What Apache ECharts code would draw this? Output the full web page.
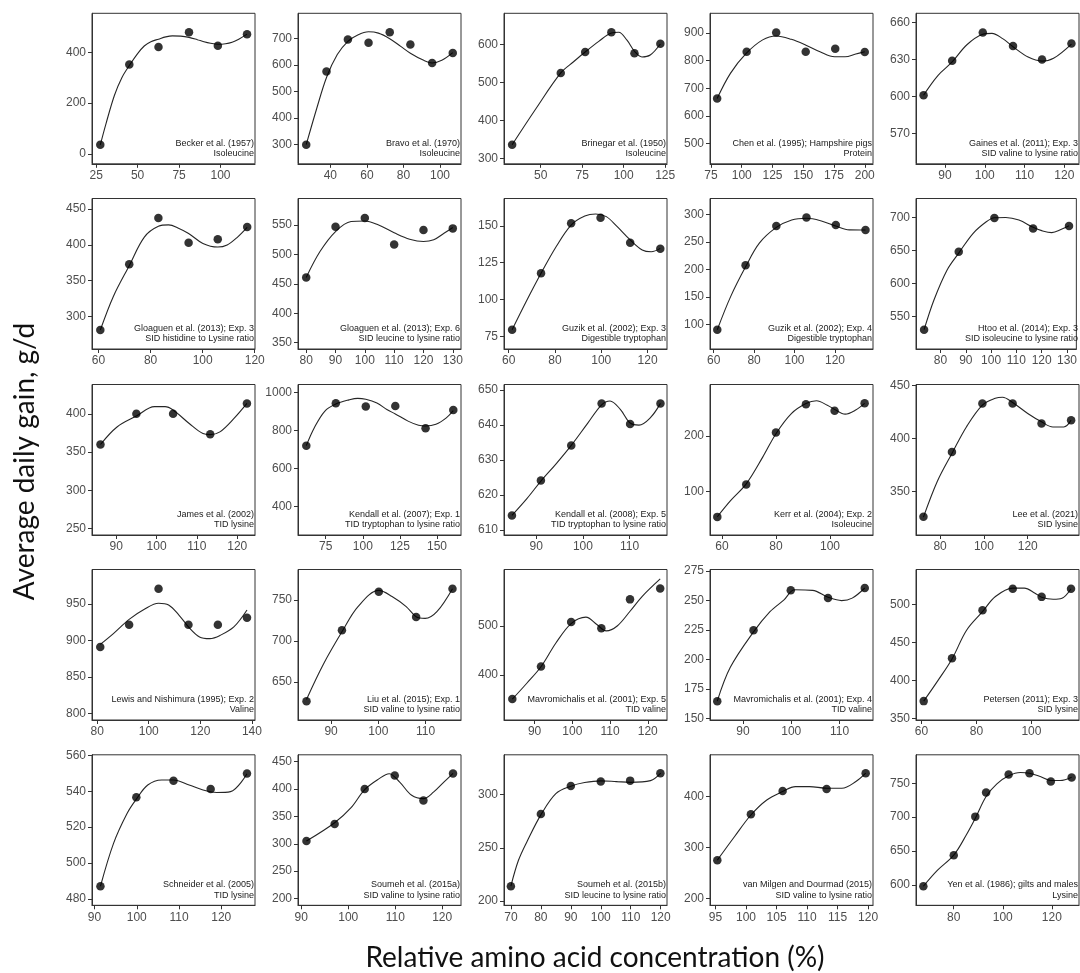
<!DOCTYPE html>
<html>
<head>
<meta charset="utf-8">
<script src="https://cdn.jsdelivr.net/npm/echarts@6/dist/echarts.min.js"></script>
<style>
  html, body { margin: 0; padding: 0; background: #ffffff; }
  #chart { width: 1080px; height: 973px; }
</style>
</head>
<body>
<div id="chart"></div>
<script>
// Study label (first line) and response trait (second line) for each panel
const studies = [
  'Becker et al. (1957)', 'Bravo et al. (1970)', 'Brinegar et al. (1950)', 'Chen et al. (1995); Hampshire pigs', 'Gaines et al. (2011); Exp. 3',
  'Gloaguen et al. (2013); Exp. 3', 'Gloaguen et al. (2013); Exp. 6', 'Guzik et al. (2002); Exp. 3', 'Guzik et al. (2002); Exp. 4', 'Htoo et al. (2014); Exp. 3',
  'James et al. (2002)', 'Kendall et al. (2007); Exp. 1', 'Kendall et al. (2008); Exp. 5', 'Kerr et al. (2004); Exp. 2', 'Lee et al. (2021)',
  'Lewis and Nishimura (1995); Exp. 2', 'Liu et al. (2015); Exp. 1', 'Mavromichalis et al. (2001); Exp. 5', 'Mavromichalis et al. (2001); Exp. 4', 'Petersen (2011); Exp. 3',
  'Schneider et al. (2005)', 'Soumeh et al. (2015a)', 'Soumeh et al. (2015b)', 'van Milgen and Dourmad (2015)', 'Yen et al. (1986); gilts and males'
];
const responses = [
  'Isoleucine', 'Isoleucine', 'Isoleucine', 'Protein', 'SID valine to lysine ratio',
  'SID histidine to Lysine ratio', 'SID leucine to lysine ratio', 'Digestible tryptophan', 'Digestible tryptophan', 'SID isoleucine to lysine ratio',
  'TID lysine', 'TID tryptophan to lysine ratio', 'TID tryptophan to lysine ratio', 'Isoleucine', 'SID lysine',
  'Valine', 'SID valine to lysine ratio', 'TID valine', 'TID valine', 'SID lysine',
  'TID lysine', 'SID valine to lysine ratio', 'SID leucine to lysine ratio', 'SID valine to lysine ratio', 'Lysine'
];

// Axis limits (data units) per panel
const xLimits = [
  [22.5, 120.8], [22.3, 111.5], [27.9, 126.1], [74.2, 206.7], [82.7, 123.7],
  [57.5, 120.1], [77.2, 132.8], [58, 128.4], [58.2, 138.8], [70.3, 133.7],
  [84, 124.4], [56.3, 166.2], [83.1, 118], [55.6, 115.9], [69, 143.4],
  [78, 141.2], [83, 117.5], [81.9, 125.1], [83.2, 116.9], [58, 117.3],
  [89.4, 128], [89.3, 124], [67.7, 122.1], [94.1, 120.8], [64.6, 131.1]
];
const yLimits = [
  [-39.6, 554], [226.6, 796], [286, 681.8], [427.5, 971], [545.2, 667.6],
  [254.5, 464.9], [339.3, 595.2], [66.5, 168.5], [56, 328.9], [500.7, 728.7],
  [241.2, 438.8], [250, 1043], [608.6, 651.6], [22.3, 292.2], [309.2, 451],
  [791.3, 997], [603.5, 787], [308.7, 615], [148.6, 276.4], [347.8, 546.3],
  [476.5, 560.3], [187.8, 462.2], [195.9, 337.5], [186.2, 482.2], [569.9, 791.9]
];

// Tick marks per panel
const xTicks = [
  [25, 50, 75, 100], [40, 60, 80, 100], [50, 75, 100, 125], [75, 100, 125, 150, 175, 200], [90, 100, 110, 120],
  [60, 80, 100, 120], [80, 90, 100, 110, 120, 130], [60, 80, 100, 120], [60, 80, 100, 120], [80, 90, 100, 110, 120, 130],
  [90, 100, 110, 120], [75, 100, 125, 150], [90, 100, 110], [60, 80, 100], [80, 100, 120],
  [80, 100, 120, 140], [90, 100, 110], [90, 100, 110, 120], [90, 100, 110], [60, 80, 100],
  [90, 100, 110, 120], [90, 100, 110, 120], [70, 80, 90, 100, 110, 120], [95, 100, 105, 110, 115, 120], [80, 100, 120]
];
const yTicks = [
  [0, 200, 400], [300, 400, 500, 600, 700], [300, 400, 500, 600], [500, 600, 700, 800, 900], [570, 600, 630, 660],
  [300, 350, 400, 450], [350, 400, 450, 500, 550], [75, 100, 125, 150], [100, 150, 200, 250, 300], [550, 600, 650, 700],
  [250, 300, 350, 400], [400, 600, 800, 1000], [610, 620, 630, 640, 650], [100, 200], [350, 400, 450],
  [800, 850, 900, 950], [650, 700, 750], [400, 500], [150, 175, 200, 225, 250, 275], [350, 400, 450, 500],
  [480, 500, 520, 540, 560], [200, 250, 300, 350, 400, 450], [200, 250, 300], [200, 300, 400], [600, 650, 700, 750]
];

// Observed average daily gain, [relative concentration %, g/d]
const observed = [
  [[27.5, 36], [45, 352], [62.6, 421], [81, 479], [98.4, 426], [116, 471]],
  [[26.8, 299], [37.9, 576], [49.6, 697], [60.9, 685], [72.5, 724], [83.8, 678], [95.7, 608], [107, 646]],
  [[32.8, 336], [62.1, 525], [76.8, 580], [92.6, 632], [106.5, 577], [122.1, 602]],
  [[80, 663], [104, 832], [128, 902], [152, 832], [176, 843], [200, 831]],
  [[84.6, 601], [91.8, 629], [99.5, 652], [107.1, 641], [114.4, 630], [121.8, 643]],
  [[60.7, 281], [71.8, 373], [83, 437.5], [94.6, 403], [105.8, 408], [117.1, 425]],
  [[80, 461], [90, 547], [100, 562], [110, 517], [120, 541.5], [130, 544.4]],
  [[61.5, 79.5], [74, 117.8], [87, 151.8], [99.7, 155.4], [112.5, 138.5], [125.5, 134.5]],
  [[61.8, 91], [75.8, 207.8], [91, 278.9], [105.9, 294.6], [120.4, 280.7], [135.1, 271.7]],
  [[73.5, 530], [87.2, 648], [101.3, 699], [116.6, 683.4], [130.8, 687]],
  [[86.1, 360], [95, 400.4], [104.1, 400.4], [113.3, 373.5], [122.4, 414]],
  [[61.9, 720.7], [81.8, 944.8], [102, 927.6], [121.9, 929.3], [142.3, 812], [161, 908.6]],
  [[84.8, 614.2], [91, 624.2], [97.5, 634.2], [104, 646.2], [110.1, 640.3], [116.6, 646.2]],
  [[58.3, 54.8], [69, 112.7], [80, 206], [91.1, 256.6], [101.7, 245.2], [112.8, 258.4]],
  [[72.4, 326.3], [85.4, 387.3], [99.3, 433.2], [113.1, 433.2], [126.3, 414.2], [139.8, 417.4]],
  [[81.2, 891], [92.4, 921.4], [103.8, 970.8], [115.4, 921.4], [126.8, 921.4], [138.1, 931]],
  [[84.8, 626.5], [92.3, 713], [100.1, 759.9], [108, 729], [115.7, 763.6]],
  [[84.1, 351.3], [91.7, 417.6], [99.7, 508.1], [107.7, 495.3], [115.3, 554.2], [123.3, 576.5]],
  [[84.7, 164.6], [92.2, 224.8], [99.9, 258.7], [107.6, 252.1], [115.2, 260.7]],
  [[60.8, 372.7], [71.1, 429.2], [82.2, 492.4], [93.2, 520.9], [103.7, 510.2], [114.4, 520.9]],
  [[91.4, 487.1], [99.9, 536.6], [108.7, 545.8], [117.5, 541.3], [126.1, 549.9]],
  [[91.1, 304.9], [97.1, 336], [103.5, 400], [109.9, 424.4], [116, 378.7], [122.3, 427.9]],
  [[70, 213.9], [80, 281.8], [90, 308.2], [100, 312.3], [109.8, 313.2], [119.9, 320.2]],
  [[95.3, 275], [100.8, 365.1], [106, 411.2], [113.2, 415.1], [119.6, 446]],
  [[67.6, 598], [80, 643.9], [88.8, 700.7], [93.2, 736.2], [102.4, 762.8], [110.9, 764.8], [119.6, 752.5], [128.1, 758.4]]
];

// Fitted response curve, sampled along each study's range
const fitted = [
  [[27.5, 35], [31, 120], [36, 230], [40.5, 300], [45, 348], [50, 395], [54, 425], [58, 442], [62.6, 452], [67, 461], [71, 465], [76, 464], [81, 459], [86, 450], [90, 442], [94, 436], [98.4, 432], [103, 434], [107, 440], [111, 452], [116, 472]],
  [[26.8, 299], [32.5, 435], [38, 555], [43.8, 640], [49.6, 690], [55, 714], [60.9, 726], [66.3, 721], [72.5, 700], [78.5, 671], [83.8, 645], [90.8, 619], [95.7, 608], [101, 618], [107, 647]],
  [[32.8, 336], [47, 430], [62.1, 525], [70, 555], [76.8, 580], [85, 608], [92.6, 630], [97, 632], [102, 611], [106.5, 582], [111, 567], [116, 572], [122.1, 601]],
  [[80, 663], [90.8, 754], [103.6, 826], [117, 875], [128, 889], [140.3, 877], [152.2, 856], [163.6, 832], [175.5, 814], [184, 814], [192.7, 824], [200, 832]],
  [[84.6, 601], [88.2, 617], [91.8, 628], [95.5, 642], [99.5, 650.5], [101.8, 651.3], [104.5, 647], [107.1, 640.4], [110.9, 632], [114.4, 628.7], [117.3, 631], [121.8, 642.6]],
  [[60.7, 281], [65.7, 328], [71.8, 371], [77.6, 411], [83, 426], [86.9, 428], [90.9, 423], [94.6, 416], [100.1, 402], [105.8, 397], [109.4, 400], [113.4, 411], [117.1, 424.5]],
  [[80, 461], [84.7, 505], [90, 539], [95.3, 556], [100, 557], [104.7, 550], [110, 537], [115.3, 526], [120, 522], [123.5, 525], [127, 536], [130, 546]],
  [[61.5, 79.5], [67.7, 99], [74, 117.8], [80.5, 135.8], [87, 150.5], [92.9, 156.6], [97.6, 158], [102.2, 156.2], [106.9, 149.4], [112.5, 140.4], [117.7, 133.6], [121.6, 132.4], [125.5, 134.7]],
  [[61.8, 91], [68.4, 151], [75.8, 205], [82.6, 248], [91, 276.5], [98.6, 290], [105.9, 293], [112.9, 288.6], [120.4, 279], [127.1, 272], [135.1, 271.7]],
  [[73.5, 530], [77.4, 575], [82.6, 620.5], [87.2, 646], [92.9, 676], [98.1, 693.5], [101.3, 699.5], [105.8, 700], [111, 696], [116.6, 685], [120, 680], [124, 677], [127.8, 682], [130.8, 687.4]],
  [[86.1, 360], [90.2, 383], [95, 397.4], [99.5, 409.7], [102.1, 409.7], [104.1, 405.3], [108.1, 387.6], [111.5, 374.4], [113.3, 373], [115.7, 376.6], [119.2, 394.3], [122.4, 414]],
  [[61.9, 721], [67.3, 815], [74.3, 902], [81.8, 940], [90.7, 962], [96.6, 970], [102, 965], [109.5, 945], [116.5, 910], [121.9, 888], [130.5, 850], [137.6, 828], [142.3, 824], [149.3, 833], [156.3, 867], [161, 905]],
  [[84.8, 614.2], [88, 619], [91, 624], [94.3, 629], [97.5, 634.2], [101, 640.5], [104, 645.8], [105.8, 646.9], [108, 644.5], [110.1, 640.6], [112, 640], [114.5, 642.2], [116.6, 646.2]],
  [[58.3, 55], [63.2, 84], [69, 114], [75.1, 162], [80, 204], [85.7, 240], [91.1, 258], [95, 263], [99, 255], [101.7, 247.6], [105.6, 239], [109.5, 246.4], [112.8, 258.4]],
  [[72.4, 326], [78.8, 360], [85.4, 386], [92, 411], [99.3, 431.6], [105.2, 438], [108.5, 439], [113.1, 434], [120, 423.7], [126.3, 415.8], [131.5, 411], [136.5, 411], [139.8, 417.4]],
  [[81.2, 894.6], [86.3, 909.4], [92.4, 928.8], [98.3, 942.6], [103.8, 950.9], [107.7, 948.6], [111.7, 934.8], [115.4, 918.6], [119.7, 904.8], [123.7, 902.5], [127.7, 907], [133, 918.6], [138.1, 941.7]],
  [[84.8, 628.6], [88.4, 671.8], [92.3, 711], [95.7, 741.8], [100.1, 761.5], [102.9, 754.1], [105.9, 741.8], [108, 729.4], [109.9, 727.4], [112.4, 735.6], [115.7, 763.6]],
  [[84.1, 351], [88, 384], [91.7, 417], [95.7, 466], [99.7, 505], [103.6, 518], [106.5, 503], [109, 490], [111.9, 500], [115.3, 530], [118.6, 561], [123.3, 596]],
  [[84.7, 164.6], [87.4, 193.3], [92.2, 223.4], [95.6, 240.6], [98.5, 250.6], [100.7, 259.2], [104.4, 258.7], [107.6, 252.9], [110.4, 250], [112.6, 252.1], [115.2, 260.7]],
  [[60.8, 372.7], [65.9, 399.4], [71.1, 428.3], [76.4, 466.2], [82.2, 490.7], [86.9, 510.7], [93.2, 521.8], [97.4, 521.8], [101.3, 515.1], [103.7, 509.8], [107.9, 507.1], [111.1, 508.4], [114.4, 520.9]],
  [[91.4, 487.1], [94.5, 511], [97.7, 527.6], [99.9, 535.6], [102.6, 543.5], [105.9, 546.3], [108.7, 546.3], [112.4, 543.5], [115.7, 540.7], [118.9, 539.3], [122.2, 539.8], [126.1, 549.8]],
  [[91.1, 305], [97.1, 338.4], [100.6, 365.9], [103.5, 398.8], [106.5, 418.3], [108.7, 427.7], [110.9, 412.8], [113.5, 388.4], [116, 382.3], [118.2, 394.5], [120.4, 412.8], [122.3, 428.5]],
  [[70, 214], [72.5, 238], [75.4, 256], [80, 281], [85, 301], [90, 308], [94.6, 311.4], [100, 313], [105.2, 312.3], [109.8, 311.6], [116.6, 313.2], [120, 320.2]],
  [[95.3, 275], [98.1, 321], [100.8, 363.8], [103.4, 393.4], [106, 409.9], [108.1, 419.7], [110.4, 419.7], [113.2, 416.4], [115.7, 416.4], [118, 429.6], [119.6, 446]],
  [[67.6, 598], [73.4, 621.7], [80, 643.9], [85.1, 673.5], [88.8, 698.2], [93.2, 730.3], [97.6, 749], [102.4, 760.9], [107.2, 765.8], [110.9, 764.8], [115.3, 759.9], [119.6, 754], [123.4, 754], [128.1, 758.9]]
];

// Panel layout: 5 x 5 facets
const colLeft = [92, 298, 504, 710, 916];
const rowTop = [13.3, 198.5, 384.5, 569.5, 754.8];
const panelW = 163;
const panelH = 150.5;

const frameColor = '#333333';
const tickText = '#4d4d4d';
const tickFont = "'Liberation Sans', Arial, sans-serif";
const titleFont = "Lato, 'Open Sans', sans-serif";

const grids = [], xAxes = [], yAxes = [], series = [], graphics = [];
const plainNumber = v => String(v);

studies.forEach((name, i) => {
  const r = Math.floor(i / 5), c = i % 5;
  const left = colLeft[c], top = rowTop[r];
  grids.push({
    left: left, top: top, width: panelW, height: panelH,
    show: true, borderColor: frameColor, borderWidth: 1, backgroundColor: 'transparent',
    containLabel: false
  });
  xAxes.push({
    type: 'value', gridIndex: i, min: xLimits[i][0], max: xLimits[i][1],
    axisLine: { show: true, onZero: false, lineStyle: { color: frameColor, width: 1 } },
    axisTick: { show: true, length: 4, lineStyle: { color: frameColor, width: 1 }, customValues: xTicks[i] },
    axisLabel: { customValues: xTicks[i], formatter: plainNumber, color: tickText, fontSize: 12, fontFamily: tickFont, margin: 6 },
    splitLine: { show: false }
  });
  yAxes.push({
    type: 'value', gridIndex: i, min: yLimits[i][0], max: yLimits[i][1],
    axisLine: { show: true, onZero: false, lineStyle: { color: frameColor, width: 1 } },
    axisTick: { show: true, length: 4, lineStyle: { color: frameColor, width: 1 }, customValues: yTicks[i] },
    axisLabel: { customValues: yTicks[i], formatter: plainNumber, color: tickText, fontSize: 12, fontFamily: tickFont, margin: 6 },
    splitLine: { show: false }
  });
  series.push({
    type: 'line', xAxisIndex: i, yAxisIndex: i, data: fitted[i],
    smooth: 0.35, symbol: 'none', silent: true, z: 2,
    lineStyle: { color: '#262626', width: 1.1 }
  });
  series.push({
    type: 'scatter', xAxisIndex: i, yAxisIndex: i, data: observed[i],
    symbol: 'circle', symbolSize: 8.5, z: 3, silent: true,
    itemStyle: { color: '#000000' }
  });
  const right = left + panelW - 1;
  const bottom = top + panelH;
  graphics.push({
    type: 'text', z: 10, silent: true,
    style: { text: name, x: right, y: bottom - 20.6, textAlign: 'right', textVerticalAlign: 'middle',
             fontSize: 9, fontFamily: tickFont, fill: '#1a1a1a' }
  });
  graphics.push({
    type: 'text', z: 10, silent: true,
    style: { text: responses[i], x: right, y: bottom - 10, textAlign: 'right', textVerticalAlign: 'middle',
             fontSize: 9, fontFamily: tickFont, fill: '#1a1a1a' }
  });
});

// Shared axis titles
graphics.push({
  type: 'text', silent: true, x: 25, y: 461.5, rotation: Math.PI / 2,
  style: { text: 'Average daily gain, g/d', x: 0, y: 0, textAlign: 'center', textVerticalAlign: 'middle',
           fontSize: 28, fontFamily: titleFont, fill: '#111111' }
});
graphics.push({
  type: 'text', silent: true,
  style: { text: 'Relative amino acid concentration (%)', x: 595, y: 958, textAlign: 'center', textVerticalAlign: 'middle',
           fontSize: 28, fontFamily: titleFont, fill: '#111111' }
});

const chart = echarts.init(document.getElementById('chart'), null, { renderer: 'canvas' });
chart.setOption({
  backgroundColor: '#ffffff',
  animation: false,
  grid: grids,
  xAxis: xAxes,
  yAxis: yAxes,
  series: series,
  graphic: graphics
});
</script>
</body>
</html>
